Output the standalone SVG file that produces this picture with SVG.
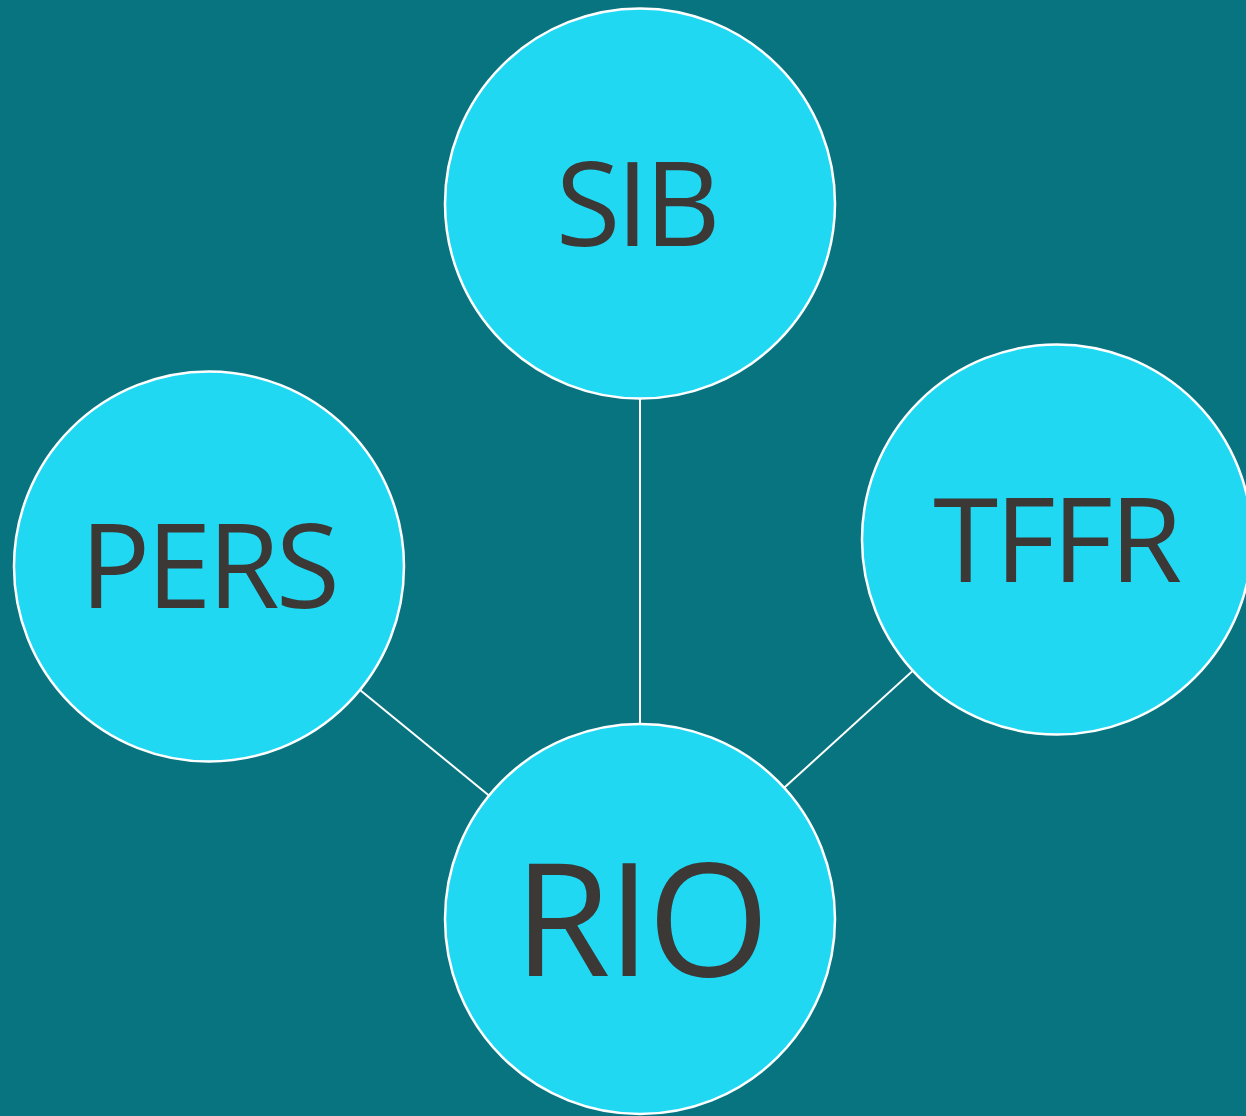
<svg xmlns="http://www.w3.org/2000/svg" width="1246" height="1116" viewBox="0 0 1246 1116">
<style>
.node{fill:#21D8F3;stroke:#FFFFFF;stroke-width:2.5}
.lbl{font-family:"Open Sans","Noto Sans","DejaVu Sans",sans-serif;fill:#3B3835;text-anchor:middle}
.edge{stroke:#FFFFFF;stroke-width:2;fill:none}
</style>
<rect width="1246" height="1116" fill="#077480"/>
<g id="connectors">
<line class="edge" x1="640" y1="203.5" x2="640" y2="919"/>
<line class="edge" x1="209" y1="566.5" x2="640" y2="919"/>
<line class="edge" x1="1057" y1="539.5" x2="640" y2="919"/>
</g>
<g id="node-sib">
<circle class="node" cx="640" cy="203.5" r="195"/>
<text class="lbl" x="636" y="246" font-size="118" letter-spacing="-4.5">SIB</text>
</g>
<g id="node-pers">
<circle class="node" cx="209" cy="566.5" r="195"/>
<text class="lbl" x="208" y="608" font-size="117" letter-spacing="-4">PERS</text>
</g>
<g id="node-tffr">
<circle class="node" cx="1057" cy="539.5" r="195"/>
<text class="lbl" x="1056" y="582" font-size="118" letter-spacing="-3.5">TFFR</text>
</g>
<g id="node-rio">
<circle class="node" cx="640" cy="919" r="195"/>
<text class="lbl" x="640" y="976" font-size="157" letter-spacing="-3.5">RIO</text>
</g>
</svg>
